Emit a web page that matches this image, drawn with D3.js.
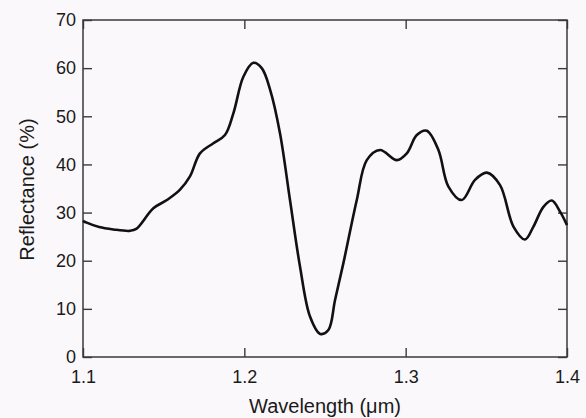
<!DOCTYPE html>
<html lang="en">
<head>
    <meta charset="UTF-8">
    <title>Reflectance spectrum</title>
    <script src="https://d3js.org/d3.v7.min.js"></script>
    <style>
        html, body {
            margin: 0;
            padding: 0;
            background: #fbf8fb;
        }
        text {
            font-family: "Liberation Sans", Arial, sans-serif;
            fill: #1a1a1a;
        }
    </style>
</head>
<body>
    <div id="chart"></div>

    <script>
        // Spectrum
        const wavelength = [1.100, 1.1023, 1.110, 1.1188, 1.129, 1.133, 1.1436, 1.152, 1.160, 1.1663,
                            1.1725, 1.1808, 1.188, 1.1932, 1.1994, 1.2056, 1.2108, 1.216, 1.2221, 1.2283,
                            1.2345, 1.2407, 1.247, 1.2521, 1.2562, 1.2614, 1.2697, 1.2759, 1.2841, 1.2945,
                            1.3007, 1.3069, 1.3131, 1.3203, 1.3265, 1.3348, 1.343, 1.3503, 1.3585, 1.3668,
                            1.374, 1.3792, 1.3854, 1.3906, 1.3957, 1.400];
        const reflectance = [28.3, 27.9, 27.0, 26.5, 26.2, 26.6, 30.9, 32.6, 34.7, 37.5,
                             42.3, 44.4, 46.1, 50.6, 58.2, 61.1, 60.0, 55.5, 46.5, 32.6,
                             18.8, 8.4, 4.8, 5.6, 11.8, 19.5, 32.6, 40.9, 43.0, 40.9,
                             42.3, 46.1, 47.0, 43.0, 35.4, 32.6, 36.8, 38.3, 35.7, 27.1,
                             24.4, 27.1, 31.2, 32.5, 30.2, 27.4];
        const xTicks = [1.1, 1.2, 1.3, 1.4];
        const yTicks = [0, 10, 20, 30, 40, 50, 60, 70];

        const width = 586, height = 418;
        const margin = {top: 20, right: 19, bottom: 61, left: 83};
        const w = width - margin.left - margin.right;
        const h = height - margin.top - margin.bottom;

        const svg = d3.select("#chart")
                      .append("svg")
                      .attr("width", width)
                      .attr("height", height);

        const g = svg.append("g")
                     .attr("transform", `translate(${margin.left},${margin.top})`);

        const x = d3.scaleLinear().domain([1.1, 1.4]).range([0, w]);
        const y = d3.scaleLinear().domain([0, 70]).range([h, 0]);

        // axes with inward ticks, mirrored on top and right
        const bottom = g.append("g")
            .attr("transform", `translate(0,${h})`)
            .call(d3.axisBottom(x).tickValues(xTicks).tickFormat(d3.format(".1f"))
                  .tickSizeInner(-9).tickSizeOuter(0).tickPadding(13));
        const left = g.append("g")
            .call(d3.axisLeft(y).tickValues(yTicks)
                  .tickSizeInner(-9).tickSizeOuter(0).tickPadding(7));
        g.append("g")
            .call(d3.axisTop(x).tickValues(xTicks).tickFormat("")
                  .tickSizeInner(-9).tickSizeOuter(0));
        g.append("g")
            .attr("transform", `translate(${w},0)`)
            .call(d3.axisRight(y).tickValues(yTicks).tickFormat("")
                  .tickSizeInner(-9).tickSizeOuter(0));

        g.selectAll(".domain").remove();
        g.selectAll(".tick line").attr("stroke", "#3a3a3a").attr("stroke-width", 1.4);
        g.selectAll(".tick text").attr("font-size", "18px").attr("fill", "#1a1a1a")
            .attr("font-family", "'Liberation Sans', Arial, sans-serif");

        g.append("rect")
         .attr("width", w)
         .attr("height", h)
         .attr("fill", "none")
         .attr("stroke", "#3a3a3a")
         .attr("stroke-width", 1.5);

        // the curve
        const line = d3.line()
            .x((d, i) => x(wavelength[i]))
            .y(d => y(d))
            .curve(d3.curveCatmullRom.alpha(0.5));

        g.append("path")
         .datum(reflectance)
         .attr("d", line)
         .attr("fill", "none")
         .attr("stroke", "#111")
         .attr("stroke-width", 2.6)
         .attr("stroke-linejoin", "round");

        // axis titles
        svg.append("text")
           .attr("x", margin.left + w / 2)
           .attr("y", 413)
           .attr("text-anchor", "middle")
           .attr("font-size", "20px")
           .text("Wavelength (\u03bcm)");

        svg.append("text")
           .attr("transform", `translate(34,${margin.top + h / 2 + 1}) rotate(-90)`)
           .attr("text-anchor", "middle")
           .attr("font-size", "20px")
           .text("Reflectance (%)");
    </script>
</body>
</html>
